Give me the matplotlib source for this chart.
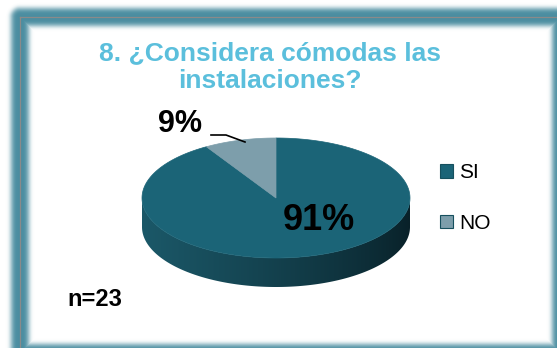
import numpy as np
import matplotlib
matplotlib.use('Agg')
from matplotlib import pyplot as plt
from matplotlib.patches import Polygon, Patch

plt.rcParams['font.family'] = ['Liberation Sans', 'DejaVu Sans']

# respuestas de la encuesta
categorias = ['SI', 'NO']
respuestas = [21, 2]
colores = ['#1b6477', '#7d9eab']
n_total = 23
titulo = '8. ¿Considera cómodas las\ninstalaciones?'

W, H = 557, 348
fig = plt.figure(figsize=(W / 100, H / 100), dpi=100)
ax = fig.add_axes([0, 0, 1, 1])
ax.set_xlim(0, W)
ax.set_ylim(H, 0)
ax.axis('off')

# marco con borde difuso
yy, xx = np.mgrid[0:H, 0:W] + 0.5
x0, y0, x1, y1 = 20, 17, 561, 353
dx = np.maximum(np.maximum(x0 - xx, xx - x1), 0)
dy = np.maximum(np.maximum(y0 - yy, yy - y1), 0)
dentro = (dx == 0) & (dy == 0)
d_in = np.minimum.reduce([xx - x0, x1 - xx, yy - y0, y1 - yy])
d = np.where(dentro, d_in, np.hypot(dx, dy))
alfa = np.exp(-(d / 9.5) ** 4)
marco = np.zeros((H, W, 4))
marco[..., 0] = 74 / 255
marco[..., 1] = 141 / 255
marco[..., 2] = 160 / 255
marco[..., 3] = alfa
ax.imshow(marco, extent=(0, W, H, 0), zorder=1, interpolation='bilinear')
ax.plot([x0, x1, x1, x0, x0], [y0, y0, y1, y1, y0], color='#8a8a8a', lw=0.9, zorder=2)

# pastel 3D
cx, cy, a, b, prof = 276, 198, 134, 60, 29
fracs = np.array(respuestas) / sum(respuestas)
inicio = 90.0
angulos = []
for f in fracs[::-1]:
    angulos.append((inicio, inicio + 360 * f))
    inicio += 360 * f
angulos = angulos[::-1]


def arco(t0, t1, dy=0, n=200):
    t = np.radians(np.linspace(t0, t1, n))
    return np.column_stack([cx + a * np.cos(t), cy - b * np.sin(t) + dy])


# lateral frontal con degradado
sup = arco(180, 360)
inf = arco(360, 180, prof)
lateral = Polygon(np.vstack([sup, inf]), closed=True, facecolor='none', edgecolor='none', zorder=3)
ax.add_patch(lateral)
grad = np.linspace(0, 1, 256)
c_izq = np.array([27, 88, 104]) / 255
c_der = np.array([9, 33, 41]) / 255
img = (c_izq[None, :] * (1 - grad[:, None]) ** 0.8 + c_der[None, :] * (1 - (1 - grad[:, None]) ** 0.8))
img = img[None, :, :]
gi = ax.imshow(img, extent=(cx - a, cx + a, cy + b + prof, cy), aspect='auto', zorder=3)
gi.set_clip_path(lateral)

# cara superior
for (t0, t1), col in zip(angulos, colores):
    pts = np.vstack([[cx, cy], arco(t0, t1)])
    ax.add_patch(Polygon(pts, closed=True, facecolor=col, edgecolor=col, lw=0.5, zorder=4))

# etiquetas de porcentaje
pct = [f'{round(f * 100)}%' for f in fracs]
ax.text(319, 220, pct[0], fontsize=26, fontweight='bold', ha='center', va='center', zorder=5)
ax.text(180, 124, pct[1], fontsize=22, fontweight='bold', ha='center', va='center', zorder=5)
ax.plot([211, 226, 245], [135, 135, 142], color='black', lw=1.2, zorder=5)

# titulo
ax.text(270, 67, titulo, fontsize=19, fontweight='bold', color='#5bbfdc',
        ha='center', va='center', linespacing=1.2, zorder=5)

ax.text(67, 300, f'n={n_total}', fontsize=17, fontweight='bold', ha='left', va='center', zorder=5)

# leyenda
manejadores = [Patch(facecolor=c, edgecolor='#16505e', lw=0.8) for c in colores]
ax.legend(manejadores, categorias, loc='center left', bbox_to_anchor=(432 / W, 1 - 198 / H),
          frameon=False, fontsize=15, handlelength=0.6, handleheight=0.6,
          handletextpad=0.3, labelspacing=1.5, borderaxespad=0)

fig.savefig('out.png', dpi=100)
